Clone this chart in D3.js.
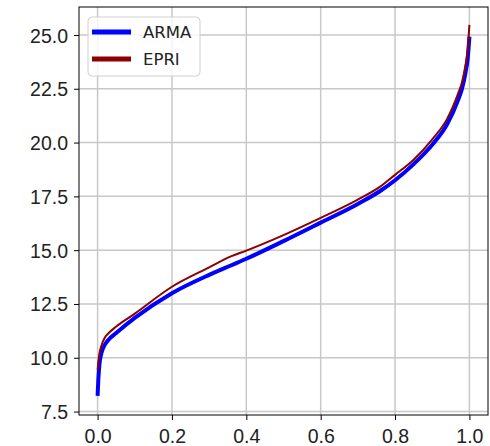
<!DOCTYPE html>
<html>
<head>
<meta charset="utf-8">
<script src="https://cdn.jsdelivr.net/npm/d3@7"></script>
<style>
body{margin:0;background:#fff;}
svg{font-family:"DejaVu Sans",sans-serif;}
.grid line{stroke:#c8c8c8;stroke-width:1.5;}
.axis path{display:none;}
.axis line{stroke:#000;}
.axis text{font-size:19.5px;fill:#222;}
</style>
</head>
<body>
<script>
// quantile positions and values
var probs=[0,0.002,0.005,0.01,0.02,0.03,0.05,0.1,0.2,0.3,0.36,0.4,0.5,0.6,0.7,0.76,0.8,0.85,0.9,0.94,0.97,0.98,0.99,0.995,1.0];
var armaVals=[8.23,9.0,9.7,10.2,10.62,10.85,11.15,11.85,13.0,13.85,14.3,14.6,15.42,16.28,17.15,17.75,18.25,19.0,19.9,20.85,22.0,22.5,23.3,23.85,24.92];
var epriVals=[9.43,9.8,10.2,10.55,10.95,11.15,11.45,12.05,13.3,14.2,14.72,14.98,15.7,16.5,17.35,17.95,18.5,19.2,20.15,21.1,22.3,22.8,23.65,24.25,25.47];
var xTicks=[0,0.2,0.4,0.6,0.8,1.0];
var yTicks=[7.5,10,12.5,15,17.5,20,22.5,25];
var seriesNames=["ARMA","EPRI"];
var seriesColors=["#0000ff","#8b0000"];

var W=490,H=446;
var pl=79,pr=488,pt=7,pb=415;

var svg=d3.select("body").append("svg").attr("width",W).attr("height",H);

var x=d3.scaleLinear().domain([-0.05,1.05]).range([pl,pr]);
var y=d3.scaleLinear().domain([7.34,26.3]).range([pb,pt]);

// grid
var grid=svg.append("g").attr("class","grid");
grid.selectAll(".gx").data(xTicks).enter().append("line")
   .attr("x1",function(d){return x(d);}).attr("x2",function(d){return x(d);})
   .attr("y1",pt).attr("y2",pb);
grid.selectAll(".gy").data(yTicks).enter().append("line")
   .attr("y1",function(d){return y(d);}).attr("y2",function(d){return y(d);})
   .attr("x1",pl).attr("x2",pr);

var xAxis=d3.axisBottom(x).tickValues(xTicks).tickFormat(d3.format(".1f")).tickSize(5).tickPadding(6);
var yAxis=d3.axisLeft(y).tickValues(yTicks).tickFormat(d3.format(".1f")).tickSize(5).tickPadding(6);

svg.append("g").attr("class","axis").attr("transform","translate(0,"+pb+")").call(xAxis)
   .selectAll("text").attr("dy","0.88em");
svg.append("g").attr("class","axis").attr("transform","translate("+pl+",0)").call(yAxis)
   .selectAll("text").attr("dy","0.36em");

var line=d3.line().curve(d3.curveMonotoneX)
   .x(function(d){return x(d[0]);}).y(function(d){return y(d[1]);});

svg.append("path").datum(d3.zip(probs,armaVals)).attr("d",line)
   .attr("fill","none").attr("stroke",seriesColors[0]).attr("stroke-width",4);
svg.append("path").datum(d3.zip(probs,epriVals)).attr("d",line)
   .attr("fill","none").attr("stroke",seriesColors[1]).attr("stroke-width",2);

// frame
svg.append("rect").attr("x",pl).attr("y",pt).attr("width",pr-pl).attr("height",pb-pt)
   .attr("fill","none").attr("stroke","#000").attr("stroke-width",1);

// legend
var lg=svg.append("g");
lg.append("rect").attr("x",88).attr("y",17).attr("width",112).attr("height",59).attr("rx",4)
   .attr("fill","#fff").attr("fill-opacity",0.8).attr("stroke","#d0d0d0");
var items=lg.selectAll(".item").data(seriesNames).enter().append("g")
   .attr("transform",function(d,i){return "translate(0,"+(32+i*27)+")";});
items.append("line").attr("x1",92).attr("x2",131).attr("y1",0).attr("y2",0)
   .attr("stroke",function(d,i){return seriesColors[i];}).attr("stroke-width",5);
items.append("text").attr("x",143).attr("y",6.3).attr("font-size","16.5px").attr("fill","#222")
   .text(function(d){return d;});
</script>
</body>
</html>
